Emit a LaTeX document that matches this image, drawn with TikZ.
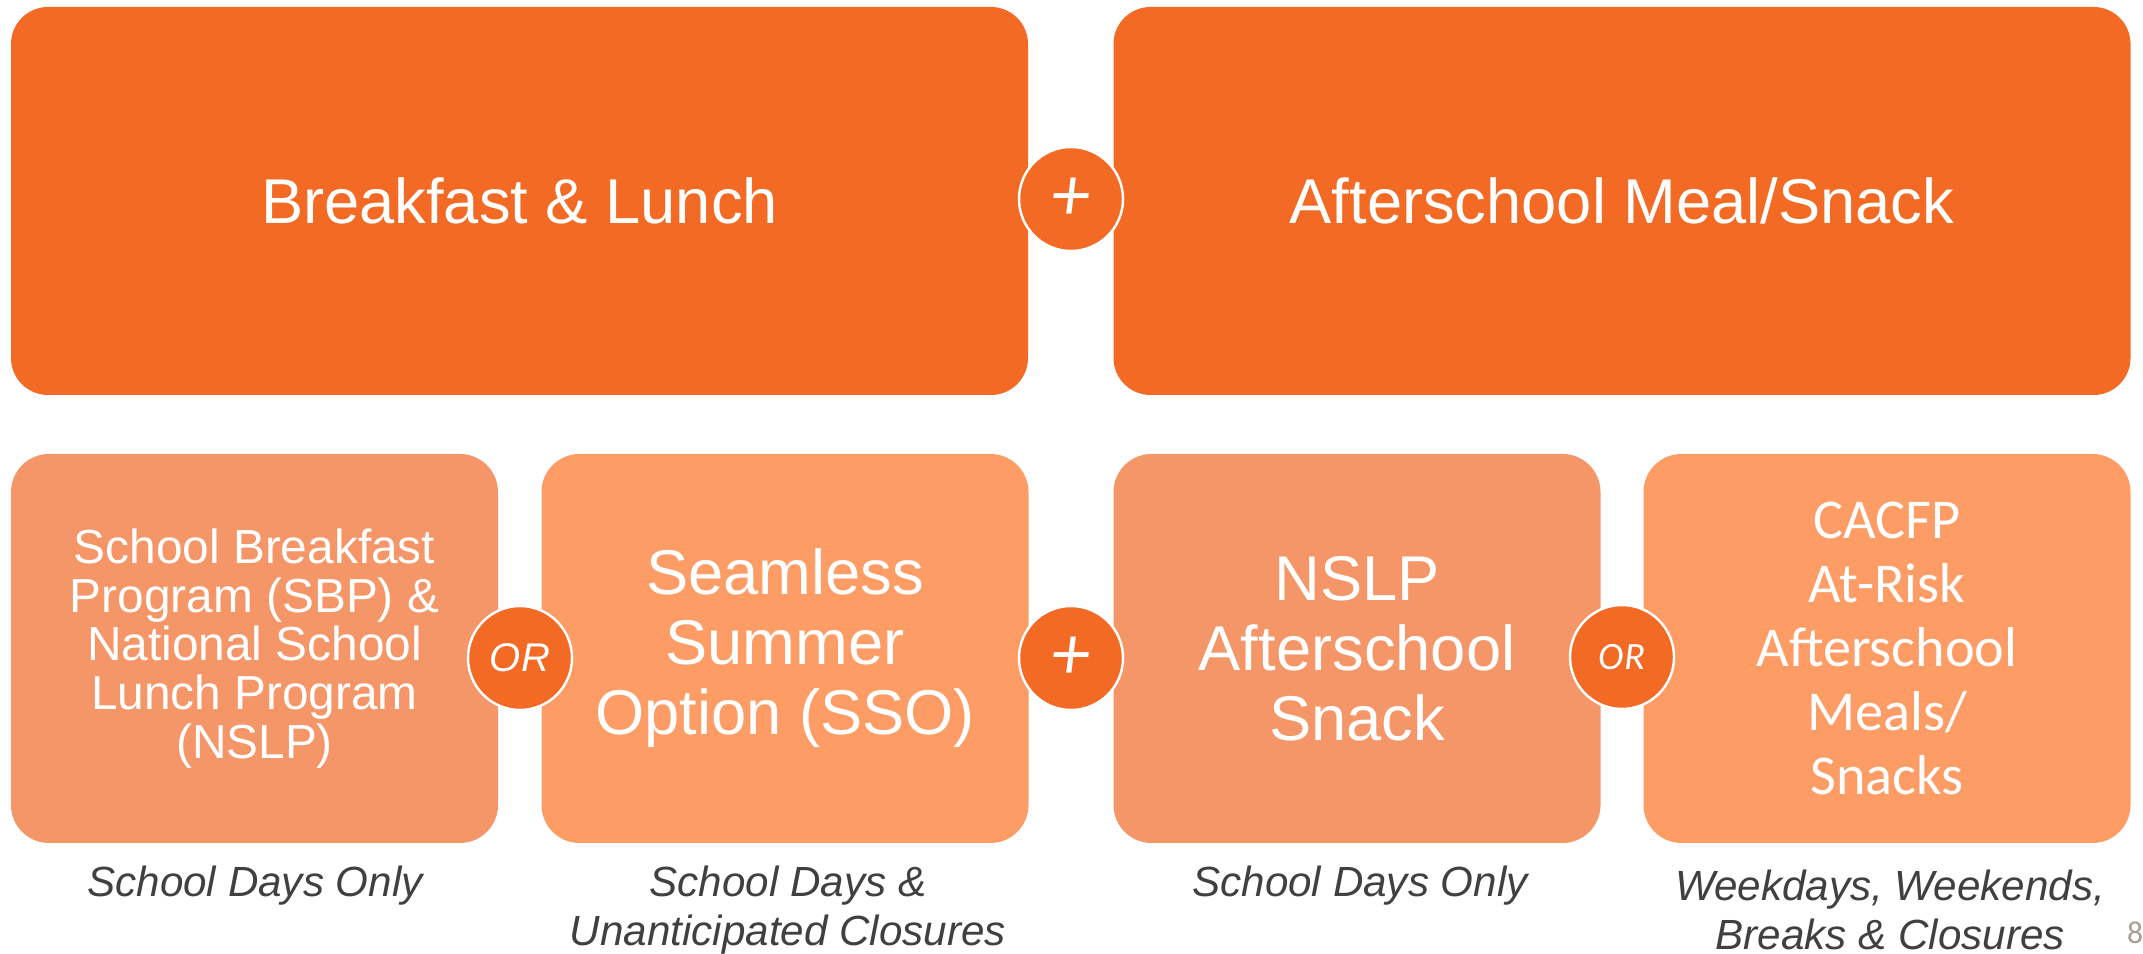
\documentclass[tikz,border=0pt]{standalone}
\usepackage{fontspec}
\setmainfont{Liberation Sans}
\newfontfamily\cacfpfont{Carlito}
\usepackage{tikz}
\usetikzlibrary{positioning}

\definecolor{mealorange}{HTML}{F26A24}
\definecolor{progsalmon}{HTML}{F49668}
\definecolor{proglight}{HTML}{FD9C65}
\definecolor{captiongray}{HTML}{404040}
\definecolor{pagegray}{HTML}{A89F92}

\begin{document}
\begin{tikzpicture}
  [every node/.style={align=center}]
  \tikzstyle{mealbox}=[rectangle,rounded corners=0.37cm,fill=mealorange,text=white,minimum width=10.17cm,minimum height=3.88cm,font=\fontsize{18}{21}\selectfont]
  \tikzstyle{progbox}=[rectangle,rounded corners=0.38cm,text=white,minimum width=4.87cm,minimum height=3.89cm]
  \tikzstyle{joiner}=[circle,fill=mealorange,draw=white,line width=0.7pt,text=white,minimum size=1.04cm,inner sep=0pt]
  \tikzstyle{plusjoiner}=[joiner,font=\cacfpfont\fontsize{22}{22}\selectfont\itshape]
  \tikzstyle{caption}=[text=captiongray,font=\fontsize{12}{14}\selectfont\itshape]
  \useasboundingbox (0,0) rectangle (21.43,-9.54);
  \begin{scope}
    \node[mealbox] (meals) at (5.195,-2.01) {Breakfast \& Lunch};
    \node[mealbox] (after) at (16.22,-2.01) {Afterschool Meal/Snack};
    \node[plusjoiner] (plustop) at (10.71,-1.99) {+};
  \end{scope}
  \begin{scope}
    \node[progbox,fill=progsalmon,font=\fontsize{13.6}{13.9}\selectfont] (sbp) at (2.545,-6.485) {School Breakfast\\Program (SBP) \&\\National School\\Lunch Program\\(NSLP)};
    \node[progbox,fill=proglight,font=\fontsize{18}{19.9}\selectfont] (sso) at (7.85,-6.485) {Seamless\\Summer\\Option (SSO)};
    \node[progbox,fill=progsalmon,font=\fontsize{18}{19.9}\selectfont] (nslp) at (13.57,-6.485) {NSLP\\Afterschool\\Snack};
    \node[progbox,fill=proglight,font=\cacfpfont\fontsize{16}{18.2}\selectfont] (cacfp) at (18.87,-6.485) {CACFP\\At-Risk\\Afterschool\\Meals/\\Snacks};
    \node[joiner,font=\fontsize{11.4}{12}\selectfont\itshape] (or1) at (5.20,-6.58) {OR};
    \node[plusjoiner] (plusbot) at (10.71,-6.58) {+};
    \node[joiner,font=\cacfpfont\fontsize{11}{12}\selectfont\itshape] (or2) at (16.22,-6.57) {OR};
  \end{scope}

  \node[caption] (days1) at (2.55,-8.86) {School Days Only};
  \node[caption] (days2) at (7.88,-9.10) {School Days \&\\Unanticipated Closures};
  \node[caption] (days3) at (13.60,-8.86) {School Days Only};
  \node[caption] (days4) at (18.90,-9.10) {Weekdays, Weekends,\\Breaks \& Closures};
  \node[text=pagegray,font=\cacfpfont\fontsize{9}{10}\selectfont] (page) at (21.35,-9.33) {8};

\end{tikzpicture}
\end{document}
